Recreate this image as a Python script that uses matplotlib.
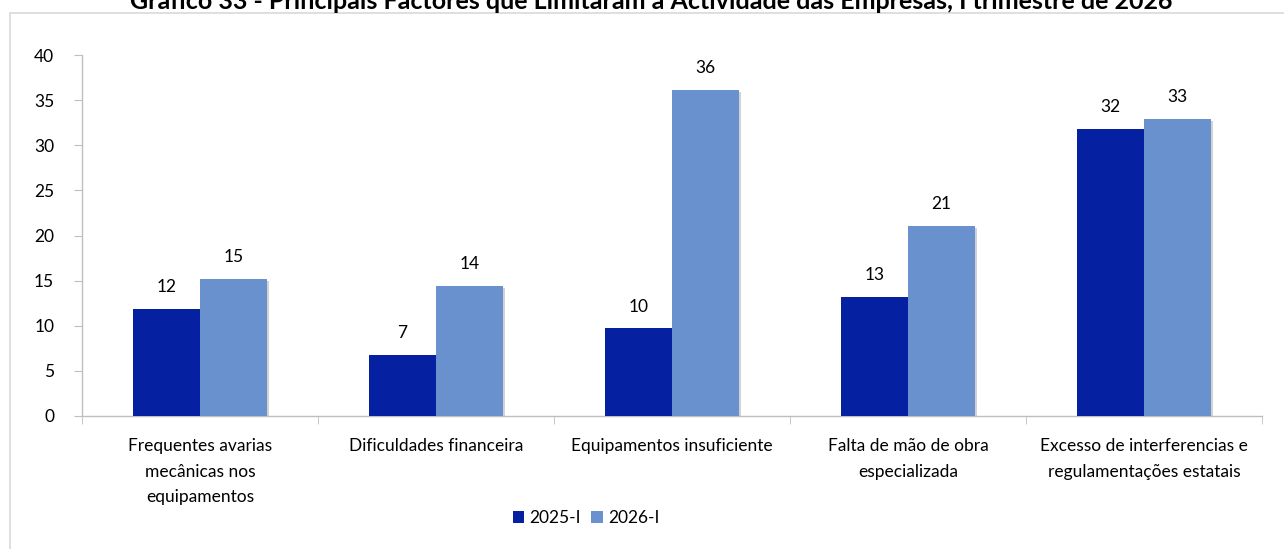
import numpy as np
import matplotlib
matplotlib.use("Agg")
import matplotlib.pyplot as plt
from matplotlib.patches import Patch, Rectangle
import matplotlib.patheffects as pe

plt.rcParams['font.family'] = ['Lato', 'DejaVu Sans']

# dados do gráfico
categorias = [
    "Frequentes avarias\nmecânicas nos\nequipamentos",
    "Dificuldades financeira",
    "Equipamentos insuficiente",
    "Falta de mão de obra\nespecializada",
    "Excesso de interferencias e\nregulamentações estatais",
]
serie_2025 = [11.9, 6.8, 9.7, 13.2, 31.8]
serie_2026 = [15.2, 14.4, 36.1, 21.1, 32.9]
rotulos_series = ["2025-I", "2026-I"]
yticks = [0, 5, 10, 15, 20, 25, 30, 35, 40]
titulo = "Gráfico 33 - Principais Factores que Limitaram a Actividade das Empresas, I trimestre de 2026"

cor_2025 = "#0520A0"
cor_2026 = "#6891CD"
cinza = "#BFBFBF"
fs = 12.5

W, H = 1284, 549
fig = plt.figure(figsize=(W / 100, H / 100), dpi=100)
ax = fig.add_axes([82 / W, 1 - 416 / H, (1262 - 82) / W, (416 - 55) / H])

x = np.arange(len(categorias))
larg = 0.284
sombra = [pe.SimplePatchShadow(offset=(1.5, -1.5), shadow_rgbFace="#808080", alpha=0.35), pe.Normal()]

b1 = ax.bar(x - larg / 2, serie_2025, larg, color=cor_2025, zorder=3)
b2 = ax.bar(x + larg / 2, serie_2026, larg, color=cor_2026, zorder=3)
for barras in (b1, b2):
    for r in barras:
        r.set_path_effects(sombra)
        ax.annotate(f"{r.get_height():.0f}", (r.get_x() + r.get_width() / 2, r.get_height()),
                    xytext=(0, 10), textcoords="offset points", ha="center", va="bottom",
                    fontsize=fs, color="#000000")

ax.set_xlim(-0.5, len(categorias) - 0.5)
ax.set_ylim(0, 40)
ax.set_yticks(yticks)
ax.set_xticks(x)
ax.set_xticklabels(categorias, fontsize=fs)
for t in ax.get_xticklabels():
    t.set_linespacing(1.72)
ax.set_xticks(np.arange(len(categorias) + 1) - 0.5, minor=True)
ax.tick_params(axis="x", which="major", length=0, pad=16)
ax.tick_params(axis="x", which="minor", length=6, color=cinza, direction="out")
ax.tick_params(axis="y", length=6, color=cinza, pad=14, labelsize=fs)
for lado in ("top", "right"):
    ax.spines[lado].set_visible(False)
for lado in ("left", "bottom"):
    ax.spines[lado].set_color(cinza)
    ax.spines[lado].set_linewidth(1)

# legenda por baixo
handles = [Patch(facecolor=cor_2025), Patch(facecolor=cor_2026)]
fig.legend(handles, rotulos_series, loc="center", bbox_to_anchor=(586 / W, 1 - 518 / H),
           ncol=2, frameon=False, fontsize=fs, handlelength=0.65, handleheight=0.65,
           handletextpad=0.3, columnspacing=0.6)

# moldura da área do gráfico
fig.add_artist(Rectangle((10 / W, -0.1), 1.2, 1 - 13 / H + 0.1, transform=fig.transFigure,
                         fill=False, edgecolor="#D9D9D9", linewidth=1.2, clip_on=False))

fig.text(651 / W, 1 - 9 / H, titulo, ha="center", va="baseline",
         fontsize=18, fontweight="bold")

fig.savefig("out.png", dpi=100)
